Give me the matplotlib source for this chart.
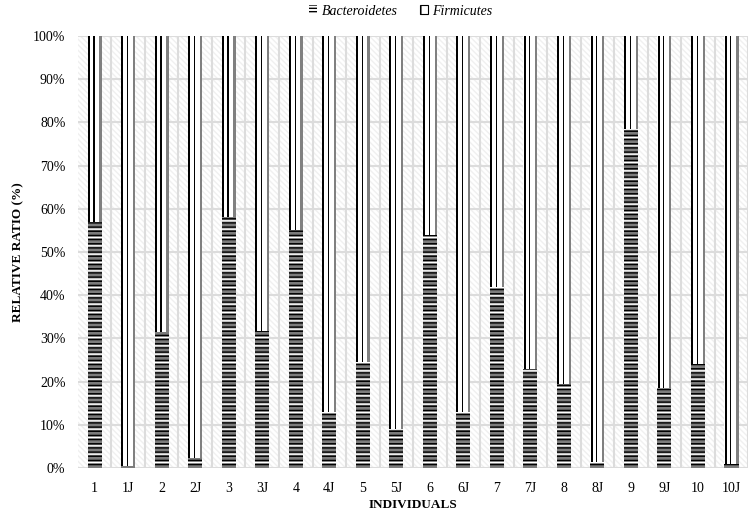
import numpy as np
import matplotlib
matplotlib.use("Agg")
import matplotlib.pyplot as plt
from matplotlib.patches import Patch, Rectangle

# ==================== 数据 ====================

individuals = ["1", "1J", "2", "2J", "3", "3J", "4", "4J", "5", "5J",
               "6", "6J", "7", "7J", "8", "8J", "9", "9J", "10", "10J"]
bacteroidetes = [57, 0.5, 31.5, 2.2, 58, 31.8, 55, 13, 24.5, 9,
                 54, 13, 42, 23, 19.5, 1.5, 78.5, 18.5, 24, 1]
firmicutes = [100 - b for b in bacteroidetes]
y_ticks = [0, 10, 20, 30, 40, 50, 60, 70, 80, 90, 100]

# ==================== 样式 ====================

plt.rcParams["font.family"] = ["Liberation Serif", "DejaVu Serif"]
plt.rcParams["hatch.linewidth"] = 1.0

BAR_W = 0.42
GRID_C = "#dcdcdc"

fig = plt.figure(figsize=(7.49, 5.14), dpi=100)
ax = fig.add_axes([0.104, 0.0895, 0.895, 0.8405])

x = np.arange(len(individuals))

# 背景：很浅的灰色斜线底纹
ax.add_patch(Rectangle((0, 0), 1, 1, transform=ax.transAxes, facecolor="white",
                       hatch="\\\\\\\\\\\\", edgecolor="#f0f0f0", lw=0, zorder=0))

# Bacteroidetes：横条纹（灰底 + 白/黑横线）
ax.bar(x, bacteroidetes, BAR_W, color="#7c7c7c", edgecolor="white",
       hatch="--", lw=0, zorder=2)
ax.bar(x, bacteroidetes, BAR_W, facecolor="none", edgecolor="black",
       hatch="----", lw=0, zorder=3)

# Firmicutes：白底 + 竖条纹
ax.bar(x, firmicutes, BAR_W, bottom=bacteroidetes, color="white", lw=0, zorder=2)
ax.bar(x - 0.175, firmicutes, 0.06, bottom=bacteroidetes, color="black", lw=0, zorder=3)
ax.bar(x - 0.02, firmicutes, 0.035, bottom=bacteroidetes, color="black", lw=0, zorder=3)
ax.bar(x + 0.175, firmicutes, 0.07, bottom=bacteroidetes, color="#808080", lw=0, zorder=3)

# 坐标轴
ax.set_xlim(-0.5, len(individuals) - 0.5)
ax.set_ylim(0, 100)
ax.set_yticks(y_ticks)
ax.set_yticklabels([f"{v}%" for v in y_ticks])
ax.set_xticks(x)
ax.set_xticklabels(individuals)
ax.set_xticks(x + 0.5, minor=True)
ax.tick_params(axis="both", which="both", length=0, labelsize=10)
ax.tick_params(axis="y", pad=9)
ax.tick_params(axis="x", pad=10)

ax.grid(True, axis="y", which="major", color=GRID_C, lw=1.5, zorder=1)
ax.grid(True, axis="x", which="minor", color=GRID_C, lw=1.5, zorder=1)
ax.set_axisbelow(True)
for s in ax.spines.values():
    s.set_visible(False)

ax.set_ylabel("RELATIVE RATIO (%)", fontsize=9.5, fontweight="bold", labelpad=6)
ax.set_xlabel("INDIVIDUALS", fontsize=9.5, fontweight="bold", labelpad=3)

# 图例
handles = [
    Patch(facecolor="white", edgecolor="black", hatch="-----", lw=0, label="Bacteroidetes"),
    Patch(facecolor="white", edgecolor="black", hatch="||", lw=0.8, label="Firmicutes"),
]
fig.legend(handles=handles, loc="upper center", bbox_to_anchor=(0.535, 1.015), ncol=2,
           frameon=False, prop={"style": "italic", "size": 10},
           handlelength=0.6, handleheight=0.6, handletextpad=0.3, columnspacing=1.6)

fig.savefig("out.png", dpi=100)
